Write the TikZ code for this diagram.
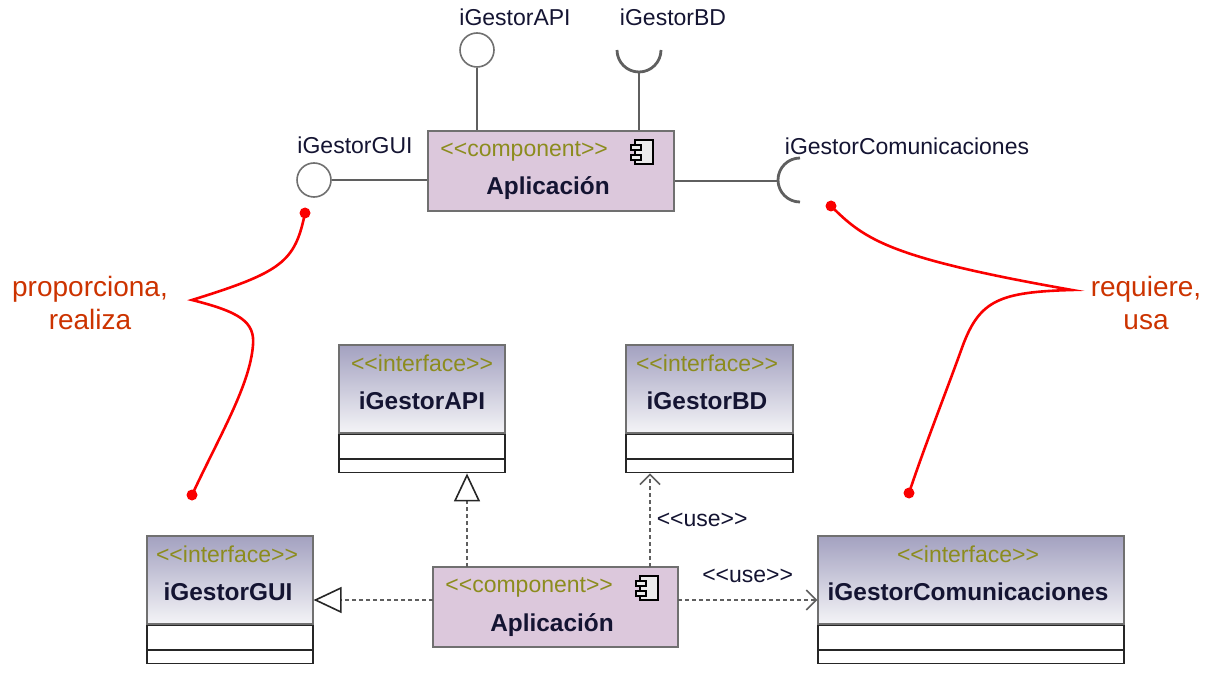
\documentclass[tikz,border=0pt]{standalone}
\usepackage{fontspec}
\setmainfont{Liberation Sans}
\usetikzlibrary{arrows.meta,positioning,calc}

\definecolor{compfill}{RGB}{220,200,220}
\definecolor{edgegray}{RGB}{112,112,112}
\definecolor{wiregray}{RGB}{95,95,95}
\definecolor{stereocol}{RGB}{140,140,30}
\definecolor{namecol}{RGB}{20,20,50}
\definecolor{ifTop}{RGB}{163,161,192}
\definecolor{ifBot}{RGB}{244,244,247}
\definecolor{notered}{RGB}{250,0,0}
\definecolor{notetext}{RGB}{204,51,0}

\newcommand{\stereo}[1]{{<}{<}#1{>}{>}}

\tikzset{
  comp/.style={draw=edgegray, fill=compfill, line width=1pt, minimum height=40pt},
  ifhead/.style={draw=edgegray, top color=ifTop, bottom color=ifBot, line width=1pt, minimum height=44pt},
  ifcomp/.style={draw=black!85, fill=white, line width=0.6pt, anchor=north},
  stereotxt/.style={text=stereocol},
  ifname/.style={text=namecol, font=\fontsize{12.2}{14}\selectfont\bfseries},
  lbl/.style={text=namecol},
  lolli/.style={circle, draw=edgegray, fill=white, line width=0.8pt, minimum size=17pt},
  wire/.style={draw=wiregray, line width=1pt},
  sock/.style={draw=wiregray, line width=1.4pt},
  realize/.style={draw=wiregray, line width=0.8pt, dash pattern=on 2pt off 1.5pt,
    -{Triangle[open, length=14pt, width=13pt, fill=white, color=black!85]}},
  usedep/.style={draw=wiregray, line width=0.8pt, dash pattern=on 2pt off 1.5pt,
    -{Straight Barb[length=5pt, width=10pt]}},
  note/.style={draw=notered, line width=1.3pt},
  notetxt/.style={text=notetext, align=center, font=\fontsize{14}{16.5}\selectfont},
  compicon/.pic={
    \draw[fill=black!8, line width=0.7pt] (-7,-12) rectangle (11,12);
    \draw[fill=black!8, line width=0.7pt] (-11,-7) rectangle (-1,-2);
    \draw[fill=black!8, line width=0.7pt] (-11,3) rectangle (-1,8);
  }
}

\begin{document}
\begin{tikzpicture}[x=0.5pt, y=-0.5pt, every node/.style={inner sep=0pt, font=\fontsize{11.5}{13}\selectfont}]
\useasboundingbox (0,0) rectangle (1215,684);

\node[comp, minimum width=123pt] (app) at (551,171) {};
\node[stereotxt, anchor=west] (appst) at (440,151) {\stereo{component}};
\node[ifname] (appname) at (548,188) {Aplicación};
\pic at (642,152) {compicon};

\node[lolli] (apiball) at (477,50) {};
\node[lbl] (apilbl) at (515,17) {iGestorAPI};
\draw[wire] (apiball) -- (apiball |- app.north);

\draw[sock] (617,50) arc[start angle=180, end angle=0, radius=22];
\coordinate (bdsock) at (639,72);
\node[lbl] (bdlbl) at (673,17) {iGestorBD};
\draw[wire] (bdsock) -- (bdsock |- app.north);

\node[lolli] (guiball) at (314,180) {};
\node[lbl] (guilbl) at (355,145) {iGestorGUI};
\draw[wire] (guiball) -- (guiball -| app.west);

\draw[sock] (800,158) arc[start angle=270, end angle=90, radius=22];
\coordinate (comsock) at (778,181);
\node[lbl] (comlbl) at (907,146) {iGestorComunicaciones};
\draw[wire] (app.east |- comsock) -- (comsock);

\node[ifhead, minimum width=83pt] (apihead) at (422,389) {};
\node[ifcomp, minimum width=83pt, minimum height=12pt] (apiattr) at (apihead.south) {};
\node[ifcomp, minimum width=83pt, minimum height=6.5pt] (apiops) at (apiattr.south) {};
\node[stereotxt] (apist) at (422,363) {\stereo{interface}};
\node[ifname] (apiname) at (422,401) {iGestorAPI};

\node[ifhead, minimum width=83.5pt] (bdhead) at (709.5,389) {};
\node[ifcomp, minimum width=83.5pt, minimum height=12pt] (bdattr) at (bdhead.south) {};
\node[ifcomp, minimum width=83.5pt, minimum height=6.5pt] (bdops) at (bdattr.south) {};
\node[stereotxt] (bdst) at (707,363) {\stereo{interface}};
\node[ifname] (bdname) at (707,401) {iGestorBD};

\node[ifhead, minimum width=83pt] (guihead) at (230,580) {};
\node[ifcomp, minimum width=83pt, minimum height=12pt] (guiattr) at (guihead.south) {};
\node[ifcomp, minimum width=83pt, minimum height=6.5pt] (guiops) at (guiattr.south) {};
\node[stereotxt] (guist) at (227,554) {\stereo{interface}};
\node[ifname] (guiname) at (228,592) {iGestorGUI};

\node[ifhead, minimum width=153pt] (comhead) at (971,580) {};
\node[ifcomp, minimum width=153pt, minimum height=12pt] (comattr) at (comhead.south) {};
\node[ifcomp, minimum width=153pt, minimum height=6.5pt] (comops) at (comattr.south) {};
\node[stereotxt] (comst) at (968,554) {\stereo{interface}};
\node[ifname] (comname) at (968,592) {iGestorComunicaciones};

\node[comp, minimum width=122.5pt] (app2) at (555.5,607) {};
\node[stereotxt, anchor=west] (app2st) at (445,587) {\stereo{component}};
\node[ifname] (app2name) at (552,625) {Aplicación};
\pic at (647,588) {compicon};

\coordinate (apifoot) at (467,567);
\draw[realize] (apifoot) -- (apifoot |- apiops.south);
\coordinate (guifoot) at (433,600);
\draw[realize] (guifoot) -- (guifoot -| guiattr.east);
\coordinate (bdfoot) at (650,567);
\draw[usedep] (bdfoot) -- (bdfoot |- bdops.south) node[midway, right=3pt, lbl] {\stereo{use}};
\coordinate (comfoot) at (678,600);
\draw[usedep] (comfoot) -- (comfoot -| comattr.west) node[midway, above=8pt, lbl] {\stereo{use}};

\node[notetxt] (provlbl) at (90,303) {proporciona,\\realiza};
\coordinate (guidot) at (305,213);
\coordinate (guitip) at (192,300);
\coordinate (guiknee) at (253,345);
\coordinate (guidot2) at (192,495);
\draw[note] (guidot) .. controls (295,262) and (282,272) .. (guitip) .. controls (240,312) and (255,322) .. (guiknee) .. controls (250,385) and (220,435) .. (guidot2);
\fill[notered] (guidot) circle[radius=5.5];
\fill[notered] (guidot2) circle[radius=5.5];

\node[notetxt] (reqlbl) at (1146,303) {requiere,\\usa};
\coordinate (comdot) at (831,206);
\coordinate (comtip) at (1072,290);
\coordinate (comknee) at (963,345);
\coordinate (comdot2) at (909,493);
\draw[note] (comdot) .. controls (865,240) and (890,258) .. (comtip) .. controls (1000,292) and (980,300) .. (comknee) .. controls (945,395) and (925,445) .. (comdot2);
\fill[notered] (comdot) circle[radius=5.5];
\fill[notered] (comdot2) circle[radius=5.5];
\end{tikzpicture}
\end{document}
